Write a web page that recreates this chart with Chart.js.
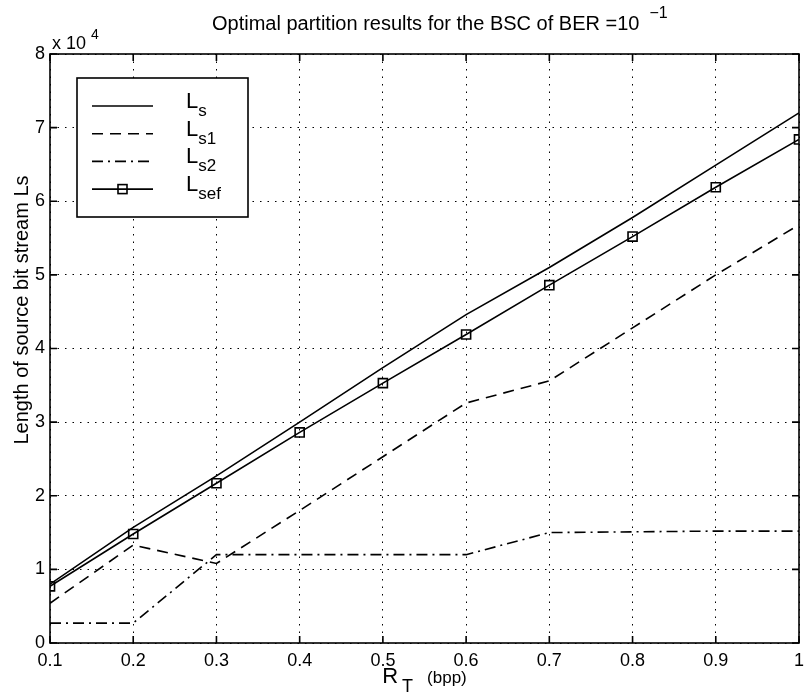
<!DOCTYPE html>
<html>
<head>
<meta charset="utf-8">
<title>Optimal partition results</title>
<script src="https://cdn.jsdelivr.net/npm/chart.js@4.4.0/dist/chart.umd.min.js"></script>
<style>
  html, body { margin: 0; padding: 0; background: #fff; }
  #wrap { width: 807px; height: 694px; position: relative; }
</style>
</head>
<body>
<div id="wrap"><canvas id="grafico"></canvas></div>
<script>
// Dados (comprimento em bits)
const rates   = [0.1, 0.2, 0.3, 0.4, 0.5, 0.6, 0.7, 0.8, 0.9, 1.0];
const lenLs   = [8000, 15700, 22700, 30000, 37400, 44600, 51000, 57800, 64900, 72000];
const lenLs1  = [5400, 13300, 10800, 18000, 25300, 32600, 35600, 42800, 50000, 56800];
const lenLs2  = [2700, 2700, 12000, 12000, 12000, 12000, 15000, 15100, 15200, 15200];
const lenLsef = [7700, 14800, 21700, 28600, 35300, 41900, 48600, 55200, 61900, 68400];

const xTicks = [0.1, 0.2, 0.3, 0.4, 0.5, 0.6, 0.7, 0.8, 0.9, 1];
const yTicks = [0, 1, 2, 3, 4, 5, 6, 7, 8];   // x 10^4

const FONTE = '"Liberation Sans", Arial, Helvetica, sans-serif';

function pontos(valores) {
  return rates.map((r, i) => ({ x: r, y: valores[i] }));
}

// escreve texto com sub/sobrescritos
function escrever(ctx, partes, x, y, alinhar) {
  let total = 0;
  partes.forEach(p => {
    ctx.font = p.tam + 'px ' + FONTE;
    p.w = ctx.measureText(p.t).width;
    total += p.w + (p.gap || 0);
  });
  let cx = alinhar === 'center' ? x - total / 2 : x;
  ctx.textAlign = 'left';
  ctx.textBaseline = 'alphabetic';
  ctx.fillStyle = '#000';
  partes.forEach(p => {
    ctx.font = p.tam + 'px ' + FONTE;
    cx += (p.gap || 0);
    ctx.fillText(p.t, cx, y + (p.dy || 0));
    cx += p.w;
  });
}

// 1) moldura + marcas internas (estilo MATLAB)
const moldura = {
  id: 'moldura',
  afterDatasetsDraw(chart) {
    const { ctx, chartArea: a, scales } = chart;
    ctx.save();
    ctx.strokeStyle = '#000';
    ctx.lineWidth = 1.6;
    ctx.setLineDash([]);
    ctx.strokeRect(a.left, a.top, a.right - a.left, a.bottom - a.top);
    const tam = 7;
    ctx.beginPath();
    xTicks.forEach(v => {
      const px = scales.x.getPixelForValue(v);
      ctx.moveTo(px, a.bottom); ctx.lineTo(px, a.bottom - tam);
      ctx.moveTo(px, a.top);    ctx.lineTo(px, a.top + tam);
    });
    yTicks.forEach(v => {
      const py = scales.y.getPixelForValue(v * 1e4);
      ctx.moveTo(a.left, py);  ctx.lineTo(a.left + tam, py);
      ctx.moveTo(a.right, py); ctx.lineTo(a.right - tam, py);
    });
    ctx.stroke();
    ctx.restore();
  }
};

// 2) legenda com subscritos
const legenda = {
  id: 'legenda',
  afterDatasetsDraw(chart) {
    const ctx = chart.ctx;
    const caixa = { x: 77, y: 78, w: 171, h: 139 };
    ctx.save();
    ctx.fillStyle = '#fff';
    ctx.fillRect(caixa.x, caixa.y, caixa.w, caixa.h);
    ctx.strokeStyle = '#000';
    ctx.lineWidth = 1.6;
    ctx.strokeRect(caixa.x, caixa.y, caixa.w, caixa.h);
    const subs = ['s', 's1', 's2', 'sef'];
    chart.data.datasets.forEach((ds, i) => {
      const ly = caixa.y + 28 + i * 27.7;
      ctx.strokeStyle = '#000';
      ctx.lineWidth = 1.6;
      ctx.setLineDash(ds.borderDash || []);
      ctx.beginPath();
      ctx.moveTo(92, ly); ctx.lineTo(153, ly);
      ctx.stroke();
      ctx.setLineDash([]);
      if (ds.pointRadius) {
        ctx.strokeRect(122.5 - 4.5, ly - 4.5, 9, 9);
      }
      escrever(ctx, [
        { t: 'L', tam: 22 },
        { t: subs[i], tam: 17, dy: 8 }
      ], 186, ly + 2, 'left');
    });
    ctx.restore();
  }
};

// 3) título e rótulos dos eixos
const textos = {
  id: 'textos',
  afterDraw(chart) {
    const { ctx, chartArea: a } = chart;
    const meio = (a.left + a.right) / 2;
    ctx.save();
    escrever(ctx, [
      { t: 'Optimal partition results for the BSC of BER =10', tam: 20 },
      { t: '\u22121', tam: 16, dy: -12, gap: 10 }
    ], 212, 30, 'left');
    escrever(ctx, [
      { t: 'x 10', tam: 18 },
      { t: '4', tam: 14, dy: -10, gap: 5 }
    ], 52, 49, 'left');
    escrever(ctx, [
      { t: 'R', tam: 22 },
      { t: 'T', tam: 18, dy: 9, gap: 4 },
      { t: '(bpp)', tam: 17, gap: 14 }
    ], meio, 683, 'center');
    ctx.translate(28, 310);
    ctx.rotate(-Math.PI / 2);
    escrever(ctx, [{ t: 'Length of source bit stream Ls', tam: 20 }], 0, 0, 'center');
    ctx.restore();
  }
};

const ctxGrafico = document.getElementById('grafico');

new Chart(ctxGrafico, {
  type: 'line',
  data: {
    datasets: [
      { label: 'Ls', data: pontos(lenLs), borderColor: '#000', borderWidth: 1.6, pointRadius: 0, borderDash: [] },
      { label: 'Ls1', data: pontos(lenLs1), borderColor: '#000', borderWidth: 1.6, pointRadius: 0, borderDash: [11, 7] },
      { label: 'Ls2', data: pontos(lenLs2), borderColor: '#000', borderWidth: 1.6, pointRadius: 0, borderDash: [11, 5, 2, 5] },
      { label: 'Lsef', data: pontos(lenLsef), borderColor: '#000', borderWidth: 1.6, borderDash: [],
        pointStyle: 'rect', pointRadius: 6.4, pointBorderWidth: 1.6, pointBorderColor: '#000', pointBackgroundColor: 'rgba(0,0,0,0)' }
    ]
  },
  options: {
    responsive: true,
    maintainAspectRatio: false,
    devicePixelRatio: 1,
    animation: false,
    events: [],
    layout: { padding: { top: 54, right: 0, left: 0, bottom: 0 } },
    plugins: { legend: { display: false }, title: { display: false }, tooltip: { enabled: false } },
    scales: {
      x: {
        type: 'linear',
        min: 0.1, max: 1,
        afterFit(scale) { scale.height = 51; scale.paddingRight = 5; scale.paddingLeft = 0; },
        afterBuildTicks(scale) { scale.ticks = xTicks.map(v => ({ value: v })); },
        grid: { color: '#000', lineWidth: 1, drawTicks: false },
        border: { display: false, dash: [1.5, 6] },
        ticks: {
          color: '#000', padding: 7, maxRotation: 0,
          font: { family: FONTE, size: 18 },
          callback: v => String(Math.round(v * 10) / 10)
        }
      },
      y: {
        type: 'linear',
        min: 0, max: 80000,
        afterFit(scale) { scale.width = 50; },
        afterBuildTicks(scale) { scale.ticks = yTicks.map(v => ({ value: v * 1e4 })); },
        grid: { color: '#000', lineWidth: 1, drawTicks: false },
        border: { display: false, dash: [1.5, 6] },
        ticks: {
          color: '#000', padding: 5,
          font: { family: FONTE, size: 18 },
          callback: v => String(Math.round(v / 1e4))
        }
      }
    }
  },
  plugins: [moldura, legenda, textos]
});
</script>
</body>
</html>
